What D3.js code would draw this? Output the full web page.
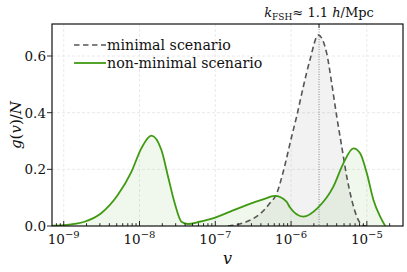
<!DOCTYPE html>
<html><head><meta charset="utf-8">
<script src="https://cdn.jsdelivr.net/npm/d3@7"></script>
<style>body{margin:0;background:#fff;} svg{display:block;} text{font-family:"DejaVu Serif",serif;}</style>
</head><body>
<svg id="c" width="407" height="272"></svg>
<script>
// data (log10 of v, and g(v)/N)
const minimalLog10V = [-6.833,-6.589,-6.413,-6.281,-6.192,-6.105,-5.993,-5.927,-5.840,-5.751,-5.641,-5.530,-5.464,-5.397,-5.331,-5.265,-5.199,-5.132,-5.066,-5.0];
const minimalG      = [0.0,0.015,0.042,0.08,0.113,0.19,0.315,0.386,0.49,0.586,0.674,0.61,0.504,0.386,0.28,0.174,0.092,0.033,0.004,0.0];
const nonMinimalLog10V = [-9.16,-9.0,-8.727,-8.506,-8.285,-8.109,-7.976,-7.844,-7.711,-7.623,-7.535,-7.446,-7.363,-7.208,-7.032,-6.811,-6.589,-6.370,-6.215,-6.060,-6.016,-5.840,-5.641,-5.442,-5.310,-5.178,-5.089,-5.0,-4.913,-4.824,-4.758];
const nonMinimalG      = [0.001,0.003,0.015,0.045,0.11,0.19,0.274,0.319,0.268,0.174,0.08,0.015,0.007,0.015,0.027,0.05,0.074,0.094,0.106,0.086,0.066,0.033,0.066,0.139,0.221,0.274,0.257,0.186,0.092,0.033,0.0];
const kFSHv = 2.34e-6;
const xTickExps = [-9,-8,-7,-6,-5];
const yTicks = [0.0,0.2,0.4,0.6];
const seriesNames = ["minimal scenario","non-minimal scenario"];

const svg = d3.select("#c");
const L=52, R=403, T=24, B=226;
const x = d3.scaleLog().domain([7e-10,3e-5]).range([L,R]);
const y = d3.scaleLinear().domain([0,0.713]).range([B,T]);

const green="#3f9a12", gray="#555555";

const grid = svg.append("g").attr("stroke","#e4e4e4").attr("stroke-width",0.8).attr("stroke-dasharray","3,2");
xTickExps.forEach(e=>grid.append("line").attr("x1",x(10**e)).attr("x2",x(10**e)).attr("y1",T).attr("y2",B));
yTicks.slice(1).forEach(v=>grid.append("line").attr("x1",L).attr("x2",R).attr("y1",y(v)).attr("y2",y(v)));

svg.append("clipPath").attr("id","pc").append("rect").attr("x",L).attr("y",T).attr("width",R-L).attr("height",B-T);
const plot = svg.append("g").attr("clip-path","url(#pc)");

function pts(lx, g){ return lx.map((d,i)=>[10**d, g[i]]); }
const area = d3.area().x(d=>x(d[0])).y0(y(0)).y1(d=>y(d[1])).curve(d3.curveMonotoneX);
const line = d3.line().x(d=>x(d[0])).y(d=>y(d[1])).curve(d3.curveMonotoneX);

const mp = pts(minimalLog10V, minimalG), np = pts(nonMinimalLog10V, nonMinimalG);
plot.append("path").attr("d",area(mp)).attr("fill","#808080").attr("fill-opacity",0.1);
plot.append("path").attr("d",area(np)).attr("fill",green).attr("fill-opacity",0.08);

plot.append("line").attr("x1",x(kFSHv)).attr("x2",x(kFSHv)).attr("y1",T).attr("y2",B)
  .attr("stroke","#888").attr("stroke-width",1).attr("stroke-dasharray","1,1.5");

plot.append("path").attr("d",line(mp)).attr("fill","none").attr("stroke",gray).attr("stroke-width",1.6).attr("stroke-dasharray","5.5,3.5");
plot.append("path").attr("d",line(np)).attr("fill","none").attr("stroke",green).attr("stroke-width",1.8);

svg.append("rect").attr("x",L).attr("y",T).attr("width",R-L).attr("height",B-T).attr("fill","none").attr("stroke","#111").attr("stroke-width",1.2);

const xt = svg.append("g").attr("stroke","#111").attr("stroke-width",0.9);
for(let e=-10;e<=-5;e++){
  for(let m=1;m<10;m++){
    const v=m*10**e; const px=x(v);
    if(px<L+0.5||px>R-0.5) continue;
    xt.append("line").attr("x1",px).attr("x2",px).attr("y1",B).attr("y2",B-(m===1?5:2.8));
  }
}
xt.append("line").attr("x1",x(kFSHv)).attr("x2",x(kFSHv)).attr("y1",T).attr("y2",T+4);

const fs=13.5;
xTickExps.forEach(e=>{
  const t=svg.append("text").attr("x",x(10**e)).attr("y",B+18).attr("text-anchor","middle").attr("font-size",fs).attr("fill","#111");
  t.append("tspan").text("10");
  t.append("tspan").attr("dy",-6).attr("font-size",10).text("\u2212"+(-e));
});

yTicks.forEach(v=>{
  svg.append("line").attr("x1",L-5).attr("x2",L).attr("y1",y(v)).attr("y2",y(v)).attr("stroke","#111").attr("stroke-width",0.9);
  svg.append("text").attr("x",L-6).attr("y",y(v)+5).attr("text-anchor","end").attr("font-size",fs).attr("fill","#111").text(v.toFixed(1));
});

svg.append("text").attr("x",(L+R)/2).attr("y",264).attr("text-anchor","middle").attr("font-size",16).attr("font-style","italic").attr("fill","#111").text("v");
const yl = svg.append("text").attr("transform","translate(21,"+((T+B)/2)+") rotate(-90)").attr("text-anchor","middle").attr("font-size",15).attr("fill","#111");
yl.append("tspan").attr("font-style","italic").text("g");
yl.append("tspan").text("(");
yl.append("tspan").attr("font-style","italic").text("v");
yl.append("tspan").text(")/");
yl.append("tspan").attr("font-style","italic").text("N");

const an = svg.append("text").attr("x",x(kFSHv)).attr("y",17).attr("text-anchor","middle").attr("font-size",13).attr("fill","#111");
an.append("tspan").attr("font-style","italic").text("k");
an.append("tspan").attr("dy",3).attr("font-size",9).text("FSH");
an.append("tspan").attr("dy",-3).text("\u2248 1.1 ");
an.append("tspan").attr("font-style","italic").text("h");
an.append("tspan").text("/Mpc");

const lfs=14.2;
const lg = svg.append("g");
lg.append("line").attr("x1",74).attr("x2",106).attr("y1",45).attr("y2",45).attr("stroke",gray).attr("stroke-width",1.6).attr("stroke-dasharray","5.5,3.5");
lg.append("line").attr("x1",74).attr("x2",106).attr("y1",63).attr("y2",63).attr("stroke",green).attr("stroke-width",1.8);
lg.append("text").attr("x",107).attr("y",50).attr("font-size",lfs).attr("fill","#111").text(seriesNames[0]);
lg.append("text").attr("x",107).attr("y",68).attr("font-size",lfs).attr("fill","#111").text(seriesNames[1]);
</script>
</body></html>
